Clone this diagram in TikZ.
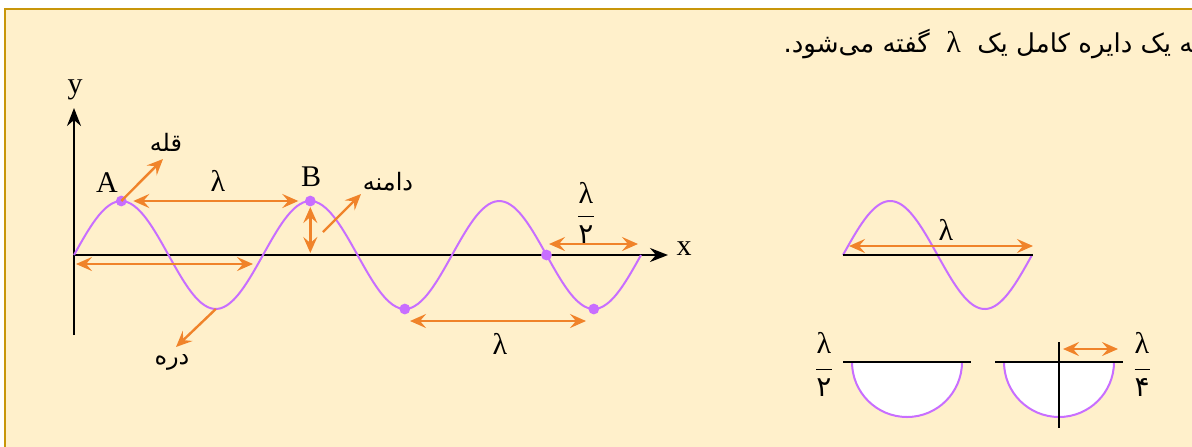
\documentclass[tikz,border=0pt]{standalone}
\usepackage{amsmath}
\usepackage{fontspec}
\usetikzlibrary{arrows.meta}
\TeXXeTstate=1
\newfontfamily\arabicfont[Script=Arabic]{DejaVu Sans}
\newfontfamily\timesfont{Liberation Serif}
\definecolor{box_yellow}{RGB}{255,240,203}
\definecolor{box_gold}{RGB}{200,150,10}
\definecolor{wave_purple}{RGB}{200,110,255}
\definecolor{arrow_orange}{RGB}{240,131,42}
\newcommand{\fa}[1]{{\arabicfont\beginR #1\endR}}
\newcommand{\lam}{{\timesfont λ}}
\newcommand{\lamfrac}[2]{% #1 = Nenner, #2 = Abstand
  $\dfrac{\hbox{\lam}\rule[-#2]{0pt}{#2}}{\rule{0pt}{#2}\hbox{\arabicfont\fontsize{14}{16}\selectfont #1}}$}
\newcommand{\sinewave}[3]{% #1 = Start x, #2 = Perioden, #3 = Achse y
  \draw[wave_purple, line width=1pt] plot[domain=0:#2, samples=90, smooth]
        ({#1+189*\x}, {#3-54*sin(360*\x)});
}

\begin{document}
\begin{tikzpicture}[x=0.5pt, y=-0.5pt,
    dim/.style={arrow_orange, line width=1.2pt,
                {Stealth[length=8pt,width=7pt,inset=3pt]}-{Stealth[length=8pt,width=7pt,inset=3pt]}},
    pointer/.style={arrow_orange, line width=1.2pt, -{Stealth[length=8pt,width=7pt,inset=3pt]}},
    axisline/.style={line width=1.1pt, -{Stealth[length=9pt,width=7pt,inset=3pt]}},
    lbl/.style={font=\fontsize{15}{17}\selectfont\timesfont, inner sep=0pt},
    falbl/.style={font=\fontsize{12}{14}\selectfont, inner sep=0pt}]
  \useasboundingbox (0,0) rectangle (1192,446);
  \fill[white] (0,0) rectangle (1192,446);
  \draw[box_gold, fill=box_yellow, line width=1.2pt] (5,9) rectangle (1215,470);

  % Kopfzeile
  \node[anchor=base east, font=\fontsize{13}{15}\selectfont, inner sep=0pt] (note) at (1201,52)
        {\fa{به یک دایره کامل یک \beginL\ {\fontsize{15}{15}\selectfont\lam}\ \endL{} گفته می‌شود.}};

  % Achsen
  \coordinate (O) at (74,255);
  \coordinate (xend) at (668,255);
  \coordinate (ybot) at (74,335);
  \coordinate (yend) at (74,108);
  \draw[axisline] (O) -- (xend);
  \draw[axisline] (ybot) -- (yend);
  \node[lbl] (xlbl) at (684,249) {x};
  \node[lbl] (ylbl) at (75,90) {y};

  % Welle
  \sinewave{74}{3}{255}
  \coordinate (A) at (121.3,201);
  \coordinate (B) at (310.3,201);
  \coordinate (T0) at (215.8,309);
  \coordinate (T1) at (404.8,309);
  \coordinate (T2) at (593.8,309);
  \coordinate (Z) at (546.5,255);
  \foreach \p in {A,B,T1,T2,Z} \fill[wave_purple] (\p) circle (2.7pt);
  \node[lbl] (Albl) at (107,183) {A};
  \node[lbl] (Blbl) at (311,177) {B};

  % Pfeile
  \draw[dim, shorten <=6pt, shorten >=6pt] (A) -- (B);
  \node[lbl] (lamAB) at (218,181) {\lam};
  \coordinate (low1) at (76,264);
  \coordinate (low2) at (253,264);
  \draw[dim] (low1) -- (low2);
  \coordinate (Bfoot) at (310.3,253);
  \draw[dim, shorten <=3pt] (B) -- (Bfoot);
  \coordinate (tr1) at (410,321);
  \coordinate (tr2) at (586,321);
  \draw[dim] (tr1) -- (tr2);
  \node[lbl] (lamT) at (500,344) {\lam};
  \coordinate (hf1) at (549,244);
  \coordinate (hf2) at (638,244);
  \draw[dim] (hf1) -- (hf2);
  \node[lbl] (half) at (586,213) {\lamfrac{۲}{0.5pt}};

  % Beschriftungen
  \coordinate (peaktip) at (163,159);
  \draw[pointer] (A) -- (peaktip);
  \node[falbl] (peaklbl) at (166,142) {\fa{قله}};
  \coordinate (amp1) at (323,232);
  \coordinate (amp2) at (361,194);
  \draw[pointer] (amp1) -- (amp2);
  \node[falbl] (amplbl) at (388,182) {\fa{دامنه}};
  \coordinate (troughtip) at (176,347);
  \draw[pointer] (T0) -- (troughtip);
  \node[falbl] (troughlbl) at (172,362) {\fa{دره}};

  % rechts: eine ganze Welle
  \coordinate (R0) at (843,255);
  \coordinate (R1) at (1033,255);
  \sinewave{843}{1}{255}
  \draw[line width=1.1pt] (R0) -- (R1);
  \coordinate (rw1) at (849,246);
  \coordinate (rw2) at (1033,246);
  \draw[dim] (rw1) -- (rw2);
  \node[lbl] (lamR) at (946,230) {\lam};

  % Halbkreise
  \fill[white] (852,362) arc[start angle=180, end angle=0, radius=55] -- cycle;
  \draw[wave_purple, line width=1pt] (852,362) arc[start angle=180, end angle=0, radius=55];
  \coordinate (hl1) at (843,362);
  \coordinate (hl2) at (971,362);
  \draw[line width=1.1pt] (hl1) -- (hl2);
  \node[lbl] (halfB) at (824,364) {\lamfrac{۲}{6pt}};

  \fill[white] (1004,362) arc[start angle=180, end angle=0, radius=55] -- cycle;
  \draw[wave_purple, line width=1pt] (1004,362) arc[start angle=180, end angle=0, radius=55];
  \coordinate (ql1) at (995,362);
  \coordinate (ql2) at (1123,362);
  \draw[line width=1.1pt] (ql1) -- (ql2);
  \coordinate (qv1) at (1059,342);
  \coordinate (qv2) at (1059,428);
  \draw[line width=1.1pt] (qv1) -- (qv2);
  \coordinate (qa1) at (1063,349);
  \coordinate (qa2) at (1118,349);
  \draw[dim] (qa1) -- (qa2);
  \node[lbl] (quarter) at (1142,364) {\lamfrac{۴}{6pt}};
\end{tikzpicture}
\end{document}
